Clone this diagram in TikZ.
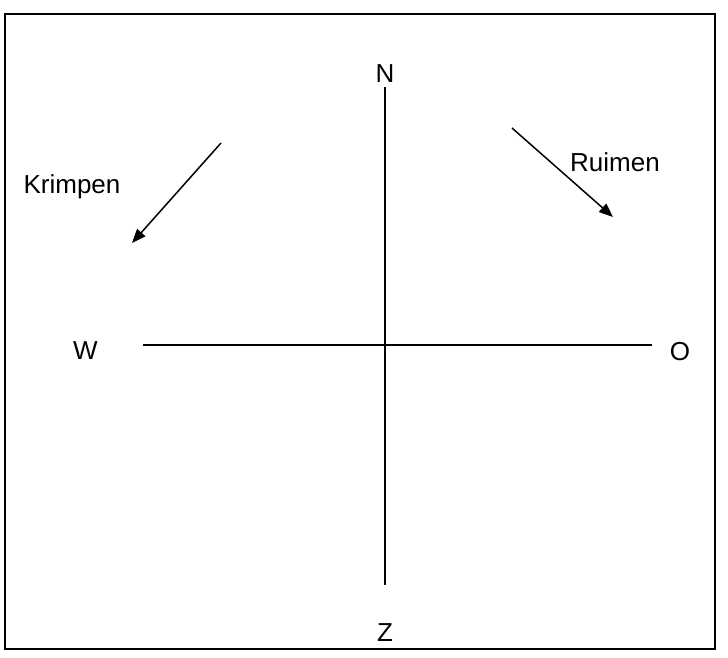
\documentclass[tikz,border=0pt]{standalone}
\usepackage{fontspec}
\setmainfont{Liberation Sans}
\usetikzlibrary{arrows.meta}

\tikzset{
  windlabel/.style={anchor=base, inner sep=0pt, font=\fontsize{26}{30}\selectfont},
  windarrow/.style={line width=1.5pt, -{Triangle[length=14pt,width=11pt]}}
}

\begin{document}
\begin{tikzpicture}[x=1pt, y=-1pt]
        \useasboundingbox (0,0) rectangle (728,657);

        % Drawing the frame
        \draw[line width=2pt] (5,14) rectangle (715,649);

        % Drawing the axes
        \coordinate (north) at (385,87);
        \coordinate (south) at (385,585);
        \coordinate (west) at (143,345);
        \coordinate (east) at (652,345);
        \draw[line width=1.5pt] (north) -- (south);
        \draw[line width=1.5pt] (west) -- (east);

        % Compass points
        \node[windlabel] (N) at (385,82) {N};
        \node[windlabel] (Z) at (385,641) {Z};
        \node[windlabel] (W) at (85.5,359) {W};
        \node[windlabel] (O) at (680,360) {O};

        % Drawing the wind arrows
        \coordinate (krimpstart) at (221,143);
        \coordinate (krimpend) at (132,243);
        \coordinate (ruimstart) at (512,128);
        \coordinate (ruimend) at (613,217);
        \draw[windarrow] (krimpstart) -- (krimpend);
        \draw[windarrow] (ruimstart) -- (ruimend);
        \node[windlabel] (krimpen) at (72,193) {Krimpen};
        \node[windlabel] (ruimen) at (615,171) {Ruimen};
    \end{tikzpicture}
\end{document}
